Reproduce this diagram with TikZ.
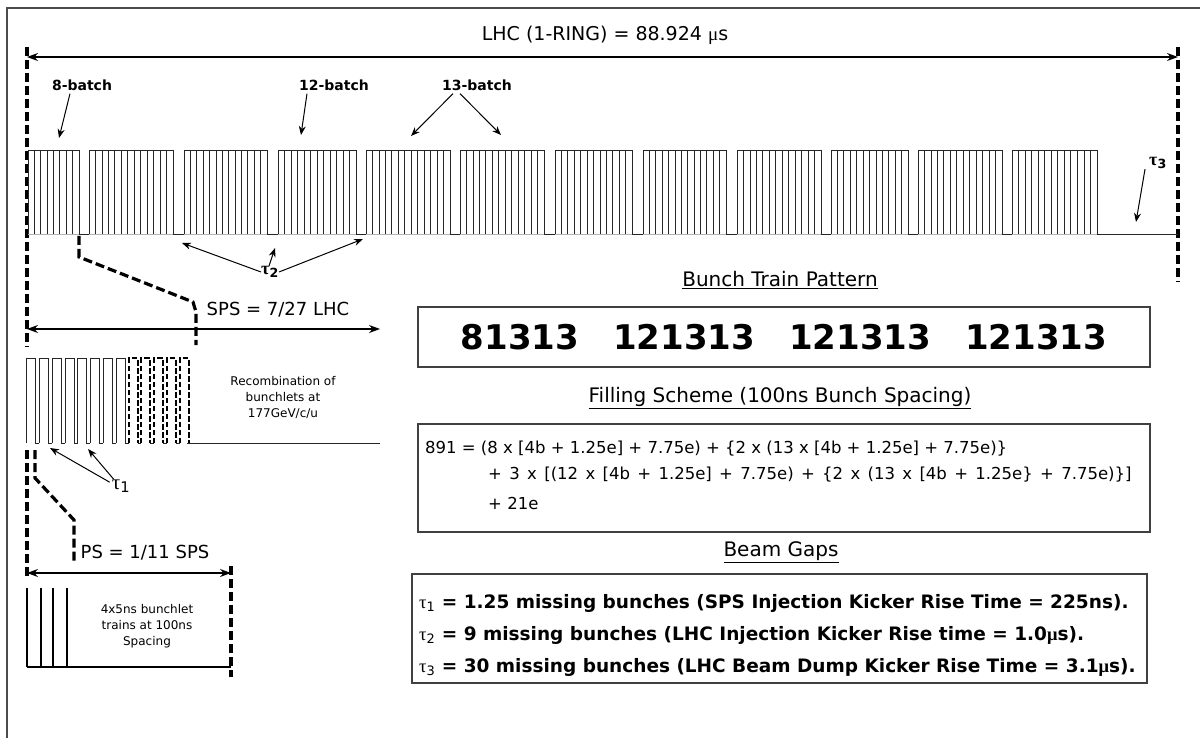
\documentclass[tikz,border=0pt]{standalone}
\usepackage{fontspec}
\setmainfont{DejaVu Sans}
\newfontfamily\grk{Liberation Serif}
\newfontfamily\widesp[WordSpace=1.4]{DejaVu Sans}
\usetikzlibrary{arrows.meta}
\newcommand{\myfs}[1]{\fontsize{#1}{#1}\selectfont}
\newcommand{\tauof}[1]{{\grk τ}\textsubscript{#1}}
\begin{document}
\begin{tikzpicture}[x=1pt,y=-1pt,
  frame/.style={draw=black!70,line width=1.4pt},
  comb/.style={draw=black!85,line width=0.8pt},
  base/.style={draw=black!30,line width=0.6pt},
  dimarrow/.style={draw=black,line width=1.1pt,{Stealth[length=11pt,width=8pt]}-{Stealth[length=11pt,width=8pt]}},
  ptr/.style={draw=black,line width=1pt,-{Stealth[length=9pt,width=7pt]}},
  dashline/.style={draw=black,line width=3.2pt,dash pattern=on 9pt off 4pt},
  dashpulse/.style={draw=black,line width=2pt,dash pattern=on 5.5pt off 2.5pt},
  txt/.style={inner sep=0pt,text=black},
  lbl/.style={txt,font=\bfseries\myfs{14}},
  title/.style={txt,font=\myfs{19}},
  dimlbl/.style={txt,font=\myfs{18}},
  small/.style={txt,font=\fontsize{12}{16}\selectfont,align=center},
  head/.style={txt,font=\myfs{20}},
  big/.style={txt,font=\bfseries\myfs{34}},
  fill/.style={txt,font=\myfs{16.5},anchor=west},
  gapt/.style={txt,font=\bfseries\myfs{18.5},anchor=west},
  boxed/.style={draw=black!75,line width=1.2pt}
]
\useasboundingbox (0,0) rectangle (1200,738);
\fill[white] (0,0) rectangle (1200,738);
% outer frame
\draw[frame] (7,745) -- (7,8) -- (1205,8);

% ---------------- LHC ring ----------------
\node[title] (lhc) at (605,35) {LHC (1-RING) = 88.924 {\grk μ}s};
\draw[dashline] (27,47) -- (27,347);
\draw[dashline] (1178,47) -- (1178,282);
\draw[dimarrow] (27,57) -- (1178,57);

\foreach \a/\b/\n in {28/79/8,89/173/13,184/267/13,278/356/12,366/450/13,460/544/13,555/632/12,643/726/13,737/821/13,831/908/12,918/1002/13,1012/1097/13}{
  \draw[base] (\a,234) -- (\b,234);
  \draw[comb] (\a,150) -- (\b,150);
  \foreach \i in {0,...,\n}{
    \draw[comb] ({\a+(\b-\a)*\i/\n},150) -- ({\a+(\b-\a)*\i/\n},234);
  }
}
\foreach \a/\b in {79/89,173/184,267/278,356/366,450/460,544/555,632/643,726/737,821/831,908/918,1002/1012,1097/1178}{
  \draw[comb] (\a,234) -- (\b,234);
}

% batch labels
\node[lbl] (b8) at (82,85) {8-batch};
\coordinate (b8t) at (59,138);
\draw[ptr] ([xshift=-12pt,yshift=-3pt]b8.south) -- (b8t);
\node[lbl] (b12) at (334,85) {12-batch};
\coordinate (b12t) at (301,135);
\draw[ptr] ([xshift=-27pt,yshift=-3pt]b12.south) -- (b12t);
\node[lbl] (b13) at (477,85) {13-batch};
\coordinate (b13a) at (411,136);
\coordinate (b13b) at (501,135);
\draw[ptr] ([xshift=-24pt,yshift=-3pt]b13.south) -- (b13a);
\draw[ptr] ([xshift=-17pt,yshift=-3pt]b13.south) -- (b13b);

% tau 2
\node[txt,font=\bfseries\myfs{18}] (t2) at (270,272) {{\grk τ}\textsubscript{2}};
\coordinate (g1) at (182,243);
\coordinate (g2) at (275,248);
\coordinate (g3) at (363,239);
\draw[ptr] (t2.west) -- (g1);
\draw[ptr] ([xshift=-1pt]t2.north) -- (g2);
\draw[ptr] (t2.east) -- (g3);

% tau 3
\node[txt,font=\bfseries\myfs{18}] (t3) at (1158,163) {{\grk τ}\textsubscript{3}};
\coordinate (g4) at (1136,222);
\draw[ptr] ([xshift=-4pt]t3.south west) -- (g4);

% ---------------- SPS ----------------
\draw[dashline] (79,236) -- (79,257) -- (193,302) -- (196,312) -- (196,345);
\draw[dimarrow] (27,329) -- (380,329);
\node[dimlbl] (sps) at (278,310) {SPS = 7/27 LHC};

\foreach \k in {0,...,7}{
  \pgfmathsetmacro\xa{26.7+12.75*\k}
  \draw[comb] (\xa,443) -- (\xa,358) -- (\xa+9,358) -- (\xa+9,443) -- (\xa+12.75,443);
}
\foreach \k in {8,...,12}{
  \pgfmathsetmacro\xa{26.7+12.75*\k}
  \draw[dashpulse] (\xa,443) -- (\xa,358) -- (\xa+9,358) -- (\xa+9,443);
}
\foreach \k in {8,...,11}{
  \pgfmathsetmacro\xa{26.7+12.75*\k}
  \draw[comb] (\xa+9,443) -- (\xa+12.75,443);
}
\draw[comb] (187,443) -- (380,443);
\node[small] (rec) at (283,397) {Recombination of\\bunchlets at\\177GeV/c/u};

% tau 1
\node[txt,font=\myfs{21}] (t1) at (121,486) {\tauof{1}};
\coordinate (s1) at (50,448);
\coordinate (s2) at (88,449);
\draw[ptr] ([xshift=-2pt,yshift=-3pt]t1.north west) -- (s1);
\draw[ptr] ([xshift=2pt]t1.north west) -- (s2);

% ---------------- PS ----------------
\draw[dashline] (27,450) -- (27,578);
\draw[dashline] (35,450) -- (35,478) -- (74,520) -- (74,563);
\draw[dashline] (231,566) -- (231,677);
\draw[dimarrow] (27,573) -- (231,573);
\node[dimlbl] (ps) at (145,553) {PS = 1/11 SPS};
\foreach \x in {27,41,53,67}{
  \draw[draw=black,line width=1.6pt] (\x,588) -- (\x,667);
}
\draw[draw=black,line width=1.1pt] (27,667) -- (231,667);
\node[small] (bl) at (147,626) {4x5ns bunchlet\\trains at 100ns\\Spacing};

% ---------------- right panels ----------------
\node[head] (h1) at (780,280) {\underline{Bunch Train Pattern}};
\node[boxed,minimum width=732pt,minimum height=60pt,inner sep=0pt] (bp) at (784,337) {};
\node[big] (pat) at (784,337) {81313\hspace{1em}121313\hspace{1em}121313\hspace{1em}121313};

\node[head] (h2) at (780,398) {\underline{Filling Scheme (100ns Bunch Spacing)}};
\node[boxed,minimum width=732pt,minimum height=108pt,inner sep=0pt] (fs) at (784,478) {};
\node[fill] (f1) at (425,449) {891 = (8 x [4b + 1.25e] + 7.75e) + \{2 x (13 x [4b + 1.25e] + 7.75e)\}};
\node[fill] (f2) at (488,475) {\widesp + 3 x [(12 x [4b + 1.25e] + 7.75e) + \{2 x (13 x [4b + 1.25e\} + 7.75e)\}]};
\node[fill] (f3) at (488,503) {+ 21e};

\node[head] (h3) at (781,552) {\underline{Beam Gaps}};
\node[boxed,minimum width=735pt,minimum height=109pt,inner sep=0pt] (bg) at (779.5,628.5) {};
\node[gapt] (l1) at (419,603) {{\mdseries\tauof{1}} = 1.25 missing bunches (SPS Injection Kicker Rise Time = 225ns).};
\node[gapt] (l2) at (419,635) {{\mdseries\tauof{2}} = 9 missing bunches (LHC Injection Kicker Rise time = 1.0{\grk μ}s).};
\node[gapt] (l3) at (419,667) {{\mdseries\tauof{3}} = 30 missing bunches (LHC Beam Dump Kicker Rise Time = 3.1{\grk μ}s).};
\end{tikzpicture}
\end{document}
